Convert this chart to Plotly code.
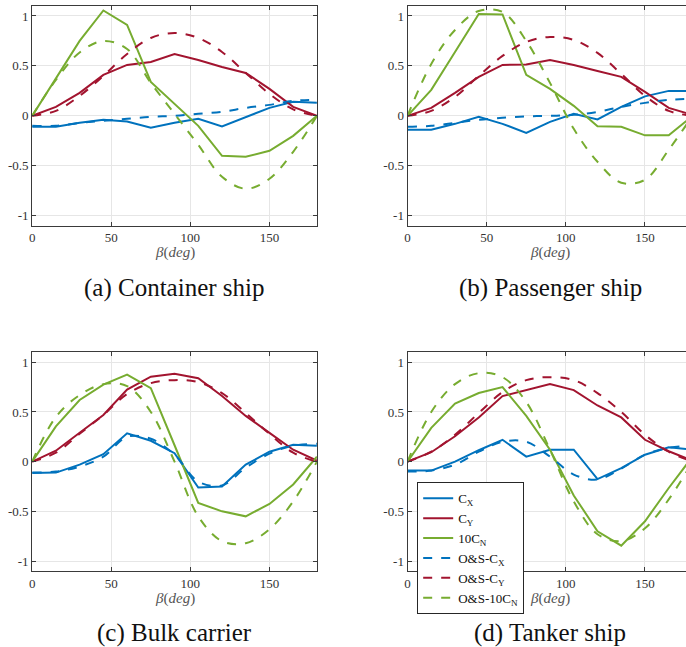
import plotly.graph_objects as go

beta = [0, 15, 30, 45, 60, 75, 90, 105, 120, 135, 150, 165, 180]

# (a) Container ship
a_cx = [-0.11, -0.11, -0.07, -0.04, -0.057, -0.12, -0.07, -0.03, -0.107, -0.01, 0.08, 0.14, 0.13]
a_cy = [0.0, 0.09, 0.23, 0.41, 0.51, 0.54, 0.62, 0.56, 0.49, 0.43, 0.27, 0.09, 0.0]
a_cn = [0.0, 0.37, 0.75, 1.055, 0.91, 0.34, 0.12, -0.1, -0.40, -0.41, -0.35, -0.2, 0.0]
a_os_cx = [-0.10, -0.10, -0.07, -0.05, -0.03, -0.01, 0.0, 0.02, 0.04, 0.08, 0.11, 0.15, 0.16]
a_os_cy = [0.0, 0.05, 0.2, 0.4, 0.62, 0.78, 0.83, 0.78, 0.64, 0.43, 0.22, 0.065, 0.0]
a_os_cn = [0.0, 0.36, 0.635, 0.75, 0.67, 0.33, 0.02, -0.29, -0.61, -0.73, -0.63, -0.36, 0.0]

# (b) Passenger ship
b_cx = [-0.14, -0.14, -0.08, -0.01, -0.08, -0.17, -0.06, 0.02, -0.035, 0.09, 0.195, 0.25, 0.25]
b_cy = [0.0, 0.08, 0.23, 0.39, 0.51, 0.515, 0.56, 0.51, 0.45, 0.39, 0.24, 0.08, 0.01]
b_cn = [0.0, 0.26, 0.64, 1.02, 1.015, 0.41, 0.27, 0.1, -0.105, -0.11, -0.195, -0.195, 0.0]
b_os_cx = [-0.11, -0.10, -0.07, -0.04, -0.02, -0.005, 0.0, 0.01, 0.04, 0.09, 0.13, 0.16, 0.17]
b_os_cy = [0.0, 0.05, 0.19, 0.4, 0.6, 0.74, 0.79, 0.76, 0.63, 0.42, 0.2, 0.05, 0.0]
b_os_cn = [0.0, 0.52, 0.86, 1.05, 1.04, 0.75, 0.33, -0.13, -0.46, -0.67, -0.64, -0.34, 0.0]

# (c) Bulk carrier
c_cx = [-0.115, -0.11, -0.03, 0.075, 0.285, 0.21, 0.085, -0.26, -0.25, -0.03, 0.1, 0.17, 0.16]
c_cy = [0.0, 0.11, 0.29, 0.47, 0.725, 0.855, 0.885, 0.84, 0.66, 0.46, 0.29, 0.12, 0.01]
c_cn = [0.0, 0.355, 0.62, 0.775, 0.875, 0.74, 0.165, -0.415, -0.5, -0.55, -0.425, -0.23, 0.05]
c_os_cx = [-0.11, -0.10, -0.05, 0.05, 0.25, 0.23, 0.07, -0.2, -0.24, -0.06, 0.08, 0.16, 0.18]
c_os_cy = [0.0, 0.09, 0.28, 0.47, 0.68, 0.79, 0.82, 0.8, 0.69, 0.49, 0.28, 0.09, 0.0]
c_os_cn = [0.0, 0.45, 0.67, 0.78, 0.76, 0.5, 0.0, -0.55, -0.8, -0.82, -0.68, -0.4, 0.0]

# (d) Tanker ship
d_cx = [-0.09, -0.09, 0.0, 0.115, 0.22, 0.05, 0.12, 0.12, -0.175, -0.065, 0.07, 0.145, 0.12]
d_cy = [0.0, 0.095, 0.255, 0.445, 0.66, 0.72, 0.78, 0.72, 0.565, 0.445, 0.22, 0.105, 0.01]
d_cn = [0.0, 0.34, 0.585, 0.69, 0.75, 0.46, 0.12, -0.34, -0.7, -0.845, -0.6, -0.265, 0.05]
d_os_cx = [-0.1, -0.09, -0.03, 0.1, 0.2, 0.2, 0.05, -0.13, -0.18, -0.07, 0.07, 0.14, 0.16]
d_os_cy = [0.0, 0.1, 0.27, 0.49, 0.7, 0.82, 0.85, 0.82, 0.69, 0.5, 0.27, 0.1, 0.0]
d_os_cn = [0.0, 0.5, 0.78, 0.89, 0.85, 0.6, 0.12, -0.4, -0.73, -0.8, -0.67, -0.38, 0.0]

captions = ["(a) Container ship", "(b) Passenger ship", "(c) Bulk carrier", "(d) Tanker ship"]
names = ["C<sub>X</sub>", "C<sub>Y</sub>", "10C<sub>N</sub>",
         "O&amp;S-C<sub>X</sub>", "O&amp;S-C<sub>Y</sub>", "O&amp;S-10C<sub>N</sub>"]
ytick_vals = [-1, -0.5, 0, 0.5, 1]
ytick_text = ["-1", "-0.5", "0", "0.5", "1"]
xtick_vals = [0, 50, 100, 150]

panels = [
    (a_cx, a_cy, a_cn, a_os_cx, a_os_cy, a_os_cn),
    (b_cx, b_cy, b_cn, b_os_cx, b_os_cy, b_os_cn),
    (c_cx, c_cy, c_cn, c_os_cx, c_os_cy, c_os_cn),
    (d_cx, d_cy, d_cn, d_os_cx, d_os_cy, d_os_cn),
]

BLUE, RED, GREEN = "#0072BD", "#A2142F", "#77AC30"
colors = [BLUE, RED, GREEN, BLUE, RED, GREEN]
W, H = 686, 647
FONT = "Liberation Serif, 'DejaVu Serif', Times New Roman, serif"

# pixel geometry of each plot area: (left, right, top, bottom, xmax)
geo = [
    (29.3, 315.3, 6.0, 225.7, 180),
    (406.3, 686.0, 6.0, 225.7, 175.9),
    (29.3, 315.3, 352.3, 571.0, 180),
    (406.3, 686.0, 352.3, 571.0, 175.9),
]

fig = go.Figure()
layout = {}
annotations = []
for i, (series, g) in enumerate(zip(panels, geo)):
    k = "" if i == 0 else str(i + 1)
    for j, ys in enumerate(series):
        dashed = j >= 3
        fig.add_trace(go.Scatter(
            x=beta, y=ys, mode="lines", name=names[j],
            line=dict(color=colors[j], width=2, dash="dash" if dashed else "solid",
                      shape="spline" if dashed else "linear", smoothing=1.0),
            xaxis="x" + k, yaxis="y" + k, showlegend=(i == 3),
        ))
    left, right, top, bottom, xmax = g
    full_right = left + (right - left) * 180 / xmax
    axcommon = dict(showgrid=True, gridcolor="#e6e6e6", gridwidth=1, zeroline=False,
                    showline=True, linecolor="#3a3a3a", linewidth=1,
                    ticks="inside", ticklen=4, tickcolor="#3a3a3a",
                    tickfont=dict(family=FONT, size=13, color="#333333"))
    layout["xaxis" + k] = dict(axcommon, domain=[left / W, right / W], range=[0, xmax],
                               tickvals=xtick_vals, anchor="y" + k,
                               mirror="ticks")
    layout["yaxis" + k] = dict(axcommon, domain=[1 - bottom / H, 1 - top / H],
                               range=[-1.1, 1.1], tickvals=ytick_vals, ticktext=ytick_text,
                               anchor="x" + k, mirror="ticks" if xmax == 180 else False)
    cx = (left + full_right) / 2
    annotations.append(dict(text="<i>β</i>(<i>deg</i>)", x=cx / W, y=1 - (bottom + 27) / H,
                            xref="paper", yref="paper", showarrow=False,
                            xanchor="center", yanchor="middle",
                            font=dict(family=FONT, size=15, color="#555555")))
    annotations.append(dict(text=captions[i], x=cx / W, y=1 - (bottom + 62) / H,
                            xref="paper", yref="paper", showarrow=False,
                            xanchor="center", yanchor="middle",
                            font=dict(family=FONT, size=25, color="#111111")))

fig.update_layout(
    width=W, height=H, margin=dict(l=0, r=0, t=0, b=0),
    paper_bgcolor="white", plot_bgcolor="white",
    font=dict(family=FONT),
    annotations=annotations,
    legend=dict(x=416 / W, y=1 - 482.3 / H, xanchor="left", yanchor="top",
                bgcolor="white", bordercolor="#262626", borderwidth=1,
                font=dict(family=FONT, size=13, color="#111111"), tracegroupgap=0),
    **layout,
)
fig.write_html("out.html", config={"displayModeBar": False},
               post_script="document.body.style.margin='0';document.body.style.overflow='hidden';")
